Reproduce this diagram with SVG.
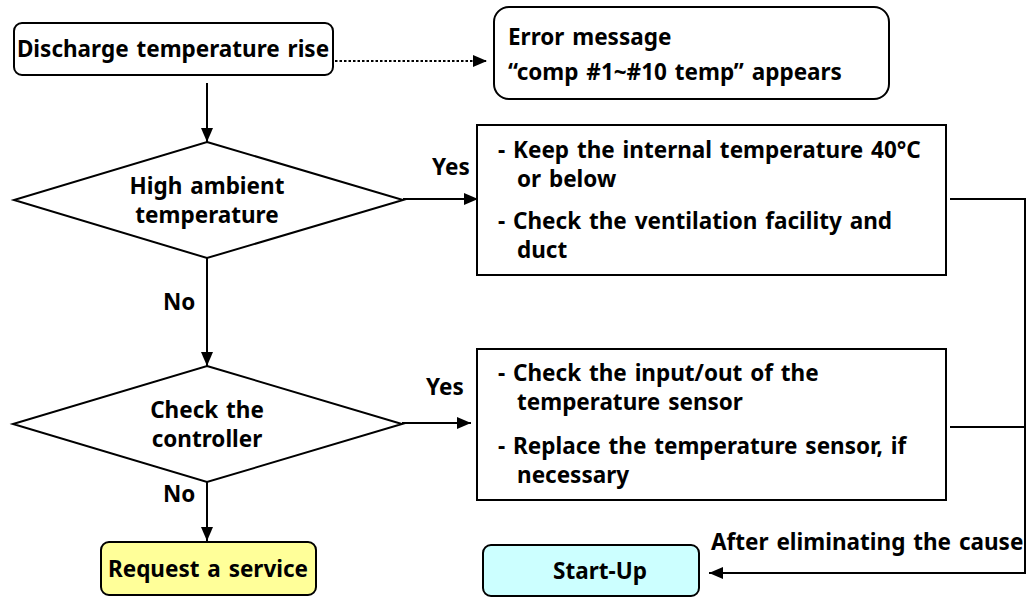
<svg xmlns="http://www.w3.org/2000/svg" width="1027" height="598" viewBox="0 0 1027 598">
<defs>
<marker id="ah" viewBox="0 0 14 12" refX="14" refY="6" markerWidth="14" markerHeight="12" markerUnits="userSpaceOnUse" orient="auto"><path d="M0,0 L14,6 L0,12 Z" fill="#000"/></marker>
<style>
text{font-family:"Noto Sans","Open Sans","Liberation Sans",sans-serif;font-weight:bold;font-size:22.5px;word-spacing:2px;fill:#000}
.c{text-anchor:middle}
.box{fill:#fff;stroke:#000;stroke-width:2}
.ln{fill:none;stroke:#000;stroke-width:2}
</style>
</defs>
<rect width="1027" height="598" fill="#fff"/>
<g id="connectors">
<line class="ln" x1="335" y1="61" x2="487" y2="61" stroke-dasharray="2.5,2" stroke-width="2.5" marker-end="url(#ah)"/>
<line class="ln" x1="207" y1="83" x2="207" y2="142" marker-end="url(#ah)"/>
<line class="ln" x1="403" y1="199" x2="478" y2="199" marker-end="url(#ah)"/>
<line class="ln" x1="207" y1="258" x2="207" y2="366" marker-end="url(#ah)"/>
<line class="ln" x1="402" y1="423" x2="471" y2="423" marker-end="url(#ah)"/>
<line class="ln" x1="207" y1="482" x2="207" y2="541" marker-end="url(#ah)"/>
<polyline class="ln" points="950,199 1025,199 1025,573 709,573" marker-end="url(#ah)"/>
<line class="ln" x1="950" y1="427" x2="1025" y2="427"/>
<text x="432" y="175">Yes</text>
<text x="426" y="395">Yes</text>
<text x="163" y="310">No</text>
<text x="163" y="502">No</text>
<text x="711" y="550">After eliminating the cause</text>
</g>
<g id="n-discharge">
<rect class="box" x="14" y="23" width="319" height="52" rx="8"/>
<text class="c" x="173" y="57">Discharge temperature rise</text>
</g>
<g id="n-error">
<rect class="box" x="494" y="7" width="395" height="92" rx="15"/>
<text x="508" y="45">Error message</text>
<text x="508" y="80">“comp #1~#10 temp” appears</text>
</g>
<g id="n-high">
<polygon class="box" points="207,142 403,200 207,258 14,200"/>
<text class="c" x="207" y="194">High ambient</text>
<text class="c" x="207" y="223">temperature</text>
</g>
<g id="n-action1">
<rect class="box" x="477" y="125" width="469" height="150"/>
<text x="498" y="158">- Keep the internal temperature 40°C</text>
<text x="517" y="187">or below</text>
<text x="498" y="229">- Check the ventilation facility and</text>
<text x="517" y="258">duct</text>
</g>
<g id="n-controller">
<polygon class="box" points="207,366 402,424 207,482 13,424"/>
<text class="c" x="207" y="418">Check the</text>
<text class="c" x="207" y="447">controller</text>
</g>
<g id="n-action2">
<rect class="box" x="477" y="349" width="469" height="151"/>
<text x="498" y="381">- Check the input/out of the</text>
<text x="517" y="410">temperature sensor</text>
<text x="498" y="454">- Replace the temperature sensor, if</text>
<text x="517" y="483">necessary</text>
</g>
<g id="n-service">
<rect class="box" x="101" y="542" width="215" height="53" rx="8" style="fill:#ffff99"/>
<text class="c" x="208" y="577">Request a service</text>
</g>
<g id="n-startup">
<rect class="box" x="483" y="545" width="216" height="51" rx="8" style="fill:#ccffff"/>
<text class="c" x="600" y="579">Start-Up</text>
</g>
</svg>
